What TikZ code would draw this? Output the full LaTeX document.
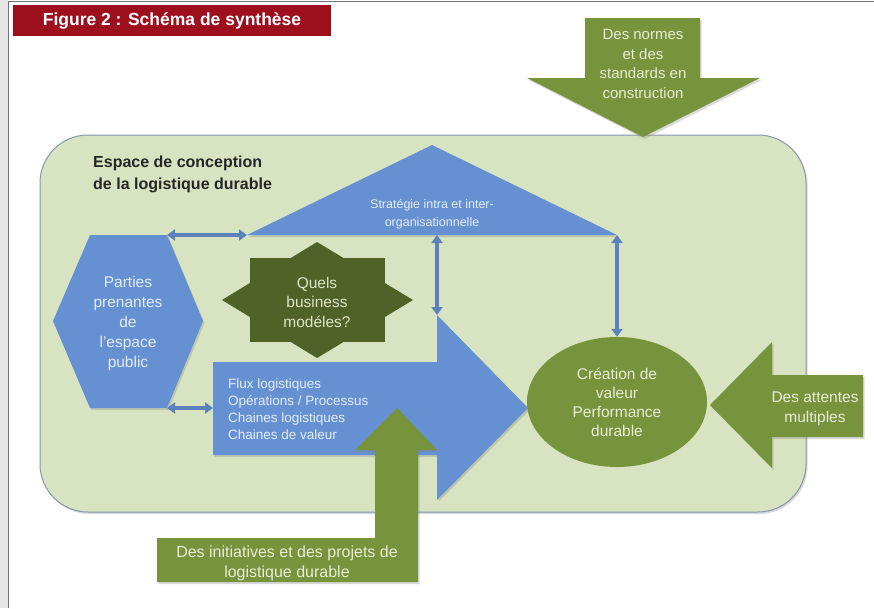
\documentclass[tikz,border=0pt]{standalone}
\usepackage{fontspec}
\setmainfont{Liberation Sans}
\usetikzlibrary{arrows.meta,shapes.geometric,shadows}

\definecolor{titre}{HTML}{9E0F1E}
\definecolor{zone}{HTML}{D8E4C1}
\definecolor{zonebord}{HTML}{8497AC}
\definecolor{bleu}{HTML}{6591D2}
\definecolor{vert}{HTML}{77933C}
\definecolor{vertfonce}{HTML}{4F6228}
\definecolor{txtvert}{HTML}{E8EED6}
\definecolor{txtbleu}{HTML}{E4ECF8}

\begin{document}
\begin{tikzpicture}[x=1pt,y=-1pt,
 txt/.style={align=center,inner sep=0pt},
 survert/.style={txt,text=txtvert,font=\fontsize{15.5}{19.5}\selectfont},
 surbleu/.style={txt,text=txtbleu,font=\fontsize{13.5}{17}\selectfont},
 link/.style={draw=bleu!90!black,line width=3.5pt,
   {Triangle[length=8pt,width=11pt]}-{Triangle[length=8pt,width=11pt]}},
 ombre/.style={drop shadow={shadow xshift=1.5pt,shadow yshift=-2pt,opacity=.3}}]

\useasboundingbox (0,0) rectangle (874,608);
\fill[white] (0,0) rectangle (874,608);
\fill[black!10] (0,0) rectangle (8,608);
\draw[black!55,line width=1pt] (8.5,608) -- (8.5,1) -- (874,1);

% titre
\fill[titre] (13,5) rectangle (331,36);
\node[txt,text=white,font=\bfseries\fontsize{17.5}{20}\selectfont] (fig) at (172,21)
 {Figure 2 : Schéma de synthèse};

% espace de conception
\draw[zonebord,fill=zone,line width=1pt,rounded corners=48,ombre] (40,135) rectangle (806,512);
\node[anchor=north west,align=left,inner sep=0pt,text=black!85,
 font=\bfseries\fontsize{16}{22}\selectfont] (espace) at (93,156)
 {Espace de conception\\de la logistique durable};

% normes
\fill[vert,ombre] (585,18) -- (700,18) -- (700,78) -- (760,78)
 -- (643,137) -- (527,78) -- (585,78) -- cycle;
\node[survert,font=\fontsize{15}{19.5}\selectfont] (normes) at (643,64)
 {Des normes\\et des\\standards en\\construction};

% strategie
\coordinate (triW) at (247,235);
\coordinate (triN) at (432,145);
\coordinate (triE) at (617,235);
\coordinate (triS) at (437,235);
\fill[bleu,ombre] (triW) -- (triN) -- (triE) -- cycle;
\node[surbleu,font=\fontsize{12.5}{18}\selectfont] (strat) at (432,214)
 {Stratégie intra et inter-\\organisationnelle};

% parties prenantes
\coordinate (hexNE) at (167,235);
\coordinate (hexSE) at (167,408);
\fill[bleu,ombre] (90,235) -- (hexNE) -- (203,321) -- (hexSE) -- (90,408) -- (53,321) -- cycle;
\node[surbleu,font=\fontsize{15.5}{20}\selectfont] (parties) at (128,323)
 {Parties\\prenantes\\de\\l'espace\\public};

% business modeles
\fill[vertfonce] (250,258) rectangle (385,342);
\fill[vertfonce] (317,242) -- (413,300) -- (317,358) -- (222,300) -- cycle;
\node[survert,text=txtvert!90!vert] (biz) at (317,302) {Quels\\business\\modéles?};

% flux
\coordinate (fluxW) at (213,408);
\coordinate (fluxN) at (437,315);
\fill[bleu,ombre] (213,362) -- (437,362) -- (fluxN) -- (528,408)
 -- (437,500) -- (437,455) -- (213,455) -- cycle;
\node[surbleu,anchor=west,align=left] (flux) at (228,409.5)
 {Flux logistiques\\Opérations / Processus\\Chaines logistiques\\Chaines de valeur};

% creation de valeur
\node[ellipse,fill=vert,minimum width=180pt,minimum height=130pt,survert,
 font=\fontsize{15.5}{19}\selectfont] (valeur) at (617,402)
 {Création de\\valeur\\Performance\\durable};

% attentes
\fill[vert,ombre] (863,375) -- (863,437) -- (772,437) -- (772,468)
 -- (710,405) -- (772,342) -- (772,375) -- cycle;
\node[survert] (attentes) at (815,409) {Des attentes\\multiples};

% initiatives
\fill[vert,ombre] (157,538) -- (375,538) -- (375,450) -- (355,450) -- (397,408)
 -- (437,450) -- (418,450) -- (418,582) -- (157,582) -- cycle;
\node[survert,font=\fontsize{16}{20}\selectfont] (initiatives) at (287,563)
 {Des initiatives et des projets de\\logistique durable};

\draw[link] (hexNE) -- (triW);
\draw[link] (hexSE) -- (fluxW);
\draw[link] (triS) -- (fluxN);
\draw[link] (triE) -- (valeur.north);
\end{tikzpicture}
\end{document}
